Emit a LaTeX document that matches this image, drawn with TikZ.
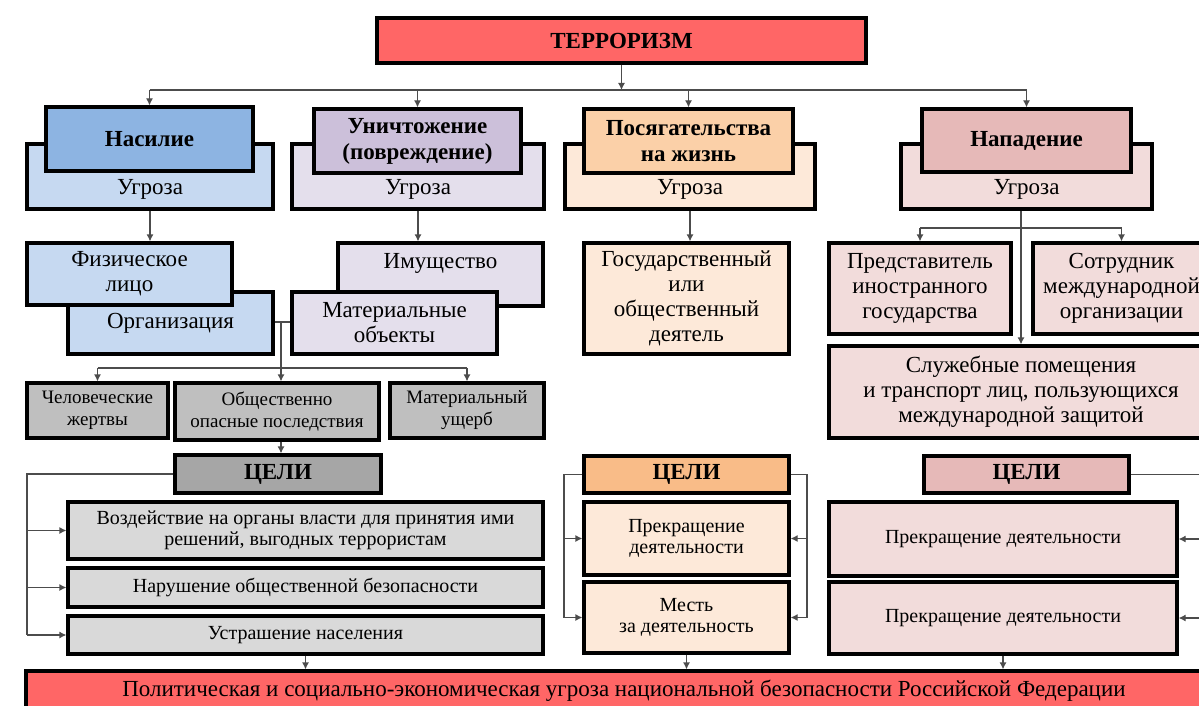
\documentclass[tikz,border=0pt]{standalone}
\usepackage{fontspec}
\setmainfont{Liberation Serif}
\usepackage{tikz}
\usetikzlibrary{arrows.meta, positioning, calc}
\definecolor{terrred}{HTML}{FF6666}
\definecolor{blueA}{HTML}{8DB4E2}
\definecolor{blueB}{HTML}{C6D9F1}
\definecolor{violA}{HTML}{CCC0DA}
\definecolor{violB}{HTML}{E4DFEC}
\definecolor{peachA}{HTML}{FBD0A8}
\definecolor{peachB}{HTML}{FDE9D9}
\definecolor{peachC}{HTML}{F9BC88}
\definecolor{roseA}{HTML}{E6B9B8}
\definecolor{roseB}{HTML}{F2DCDB}
\definecolor{greyA}{HTML}{BFBFBF}
\definecolor{greyB}{HTML}{A6A6A6}
\definecolor{greyC}{HTML}{D9D9D9}
\tikzset{
  bw/.style={minimum width=#1*0.5pt},
  bh/.style={minimum height=#1*0.5pt},
  box/.style={draw, line width=1.6pt, align=center, inner sep=2pt,
    font=\fontsize{11.5}{12.5}\selectfont},
  head/.style={box, font=\bfseries\fontsize{11.5}{13}\selectfont},
  threat/.style={box, text height=21pt, text depth=3.5pt, inner ysep=4pt},
  small/.style={box, font=\fontsize{9.5}{11}\selectfont},
  goal/.style={box, font=\fontsize{10}{10.5}\selectfont},
  link/.style={draw=black!70, line width=0.6pt},
  arr/.style={link, -{Latex[length=3.5pt,width=3.5pt]}},
}
\begin{document}
\begin{tikzpicture}[x=0.5pt, y=-0.5pt]
  \useasboundingbox (0,0) rectangle (1199,706);
  \clip (0,0) rectangle (1199,706);

  % top level
  \node[head, fill=terrred, bw=489, bh=45] (terror) at (621.5,40.5) {ТЕРРОРИЗМ};

  % kinds of acts
  \node[threat, fill=blueB, bw=246, bh=65] (ugr1) at (150,176.5) {Угроза};
  \node[head, fill=blueA, bw=207, bh=64] (nasilie) at (149.5,139) {Насилие};
  \node[threat, fill=violB, bw=252, bh=65] (ugr2) at (418,176.5) {Угроза};
  \node[head, fill=violA, bw=207, bh=64] (unich) at (417.5,141) {Уничтожение\\(повреждение)};
  \node[threat, fill=peachB, bw=250, bh=65] (ugr3) at (690,176.5) {Угроза};
  \node[head, fill=peachA, bw=209, bh=64] (posyag) at (688.5,141) {Посягательства\\на жизнь};
  \node[threat, fill=roseB, bw=251, bh=65] (ugr4) at (1026.5,176.5) {Угроза};
  \node[head, fill=roseA, bw=209, bh=63] (napad) at (1026.5,140.5) {Нападение};

  % objects
  \node[box, fill=blueB, bw=205, bh=62, text height=12pt, text depth=7pt, inner ysep=6pt] (org) at (170.5,323) {Организация};
  \node[box, fill=blueB, bw=205, bh=62] (fiz) at (129.5,274) {Физическое\\лицо};
  \node[box, fill=violB, bw=205, bh=63, text height=8.5pt, text depth=15pt, inner ysep=4pt] (imush) at (440.5,274.5) {Имущество};
  \node[box, fill=violB, bw=205, bh=62] (mater) at (394.5,323) {Материальные\\объекты};
  \node[box, fill=peachB, bw=205, bh=111] (gos) at (686.5,298.5) {Государственный\\или\\общественный\\деятель};
  \node[box, fill=roseB, bw=182, bh=91] (pred) at (920,288.5) {Представитель\\иностранного\\государства};
  \node[box, fill=roseB, bw=177, bh=91] (sotr) at (1121.5,288.5) {Сотрудник\\международной\\организации};
  \node[box, fill=roseB, bw=384, bh=92] (sluzh) at (1021,392) {Служебные помещения\\и транспорт лиц, пользующихся\\международной защитой};

  % consequences
  \node[small, fill=greyA, bw=141, bh=55] (victims) at (97.5,410.5) {Человеческие\\жертвы};
  \node[small, fill=greyA, bw=204, bh=57] (danger) at (277,411.5) {Общественно\\опасные последствия};
  \node[small, fill=greyA, bw=154, bh=55] (damage) at (467,410.5) {Материальный\\ущерб};

  % goals
  \node[head, fill=greyB, bw=206, bh=38] (celi1) at (278,474) {ЦЕЛИ};
  \node[goal, fill=greyC, bw=475, bh=57] (g1) at (305.5,530.5) {Воздействие на органы власти для принятия ими\\решений, выгодных террористам};
  \node[goal, fill=greyC, bw=475, bh=39] (g2) at (305.5,587.5) {Нарушение общественной безопасности};
  \node[goal, fill=greyC, bw=475, bh=38] (g3) at (305.5,635) {Устрашение населения};

  \node[head, fill=peachC, bw=205, bh=37] (celi2) at (686.5,474.5) {ЦЕЛИ};
  \node[goal, fill=peachB, bw=205, bh=73] (m1) at (686.5,538.5) {Прекращение\\деятельности};
  \node[goal, fill=peachB, bw=205, bh=71] (m2) at (686.5,617.5) {Месть\\за деятельность};

  \node[head, fill=roseA, bw=205, bh=37] (celi3) at (1026.5,474.5) {ЦЕЛИ};
  \node[goal, fill=roseB, bw=348, bh=74] (r1) at (1003,539) {Прекращение деятельности};
  \node[goal, fill=roseB, bw=348, bh=72] (r2) at (1003,618) {Прекращение деятельности};

  \node[box, fill=terrred, bw=1196, bh=40] (result) at (624,691) {Политическая и социально-экономическая угроза национальной безопасности Российской Федерации};

  % connectors
  \coordinate (hl) at (0,90);
  \draw[arr] (terror.south) -- (terror.south |- hl);
  \draw[link] (nasilie.north |- hl) -- (napad.north |- hl);
  \foreach \n in {nasilie,unich,posyag,napad}
    \draw[arr] (\n.north |- hl) -- (\n.north);

  \draw[arr] (ugr1.south) -- (ugr1.south |- fiz.north);
  \draw[arr] (ugr2.south) -- (ugr2.south |- imush.north);
  \draw[arr] (ugr3.south) -- (ugr3.south |- gos.north);

  \coordinate (nb) at (0,228);
  \draw[arr] (sluzh.north |- ugr4.south) -- (sluzh.north);
  \draw[link] (pred.north |- nb) -- (sotr.north |- nb);
  \draw[arr] (pred.north |- nb) -- (pred.north);
  \draw[arr] (sotr.north |- nb) -- (sotr.north);

  \coordinate (fork) at (281,322);
  \coordinate (lv) at (0,368);
  \draw[link] (org.east |- fork) -- (mater.west |- fork);
  \draw[link] (fork) -- (fork |- lv);
  \draw[link] (victims.north |- lv) -- (damage.north |- lv);
  \draw[arr] (victims.north |- lv) -- (victims.north);
  \draw[arr] (fork |- lv) -- (fork |- danger.north);
  \draw[arr] (damage.north |- lv) -- (damage.north);
  \draw[arr] (fork |- danger.south) -- (fork |- celi1.north);

  % brackets round the goals
  \coordinate (lb) at (27,0);
  \draw[link] (celi1.west) -| (lb |- g3.west);
  \foreach \g in {g1,g2,g3}
    \draw[arr] (lb |- \g.west) -- (\g.west);

  \coordinate (mlb) at (564,0);
  \coordinate (mrb) at (807,0);
  \draw[link] (celi2.west) -| (mlb |- m2.west);
  \draw[link] (celi2.east) -| (mrb |- m2.east);
  \foreach \g in {m1,m2} {
    \draw[arr] (mlb |- \g.west) -- (\g.west);
    \draw[arr] (mrb |- \g.east) -- (\g.east);
  }

  \coordinate (rrb) at (1215,0);
  \draw[link] (celi3.east) -| (rrb |- r2.east);
  \foreach \g in {r1,r2}
    \draw[arr] (rrb |- \g.east) -- (\g.east);

  \draw[arr] (g3.south) -- (g3.south |- result.north);
  \draw[arr] (m2.south) -- (m2.south |- result.north);
  \draw[arr] (r2.south) -- (r2.south |- result.north);
\end{tikzpicture}
\end{document}
